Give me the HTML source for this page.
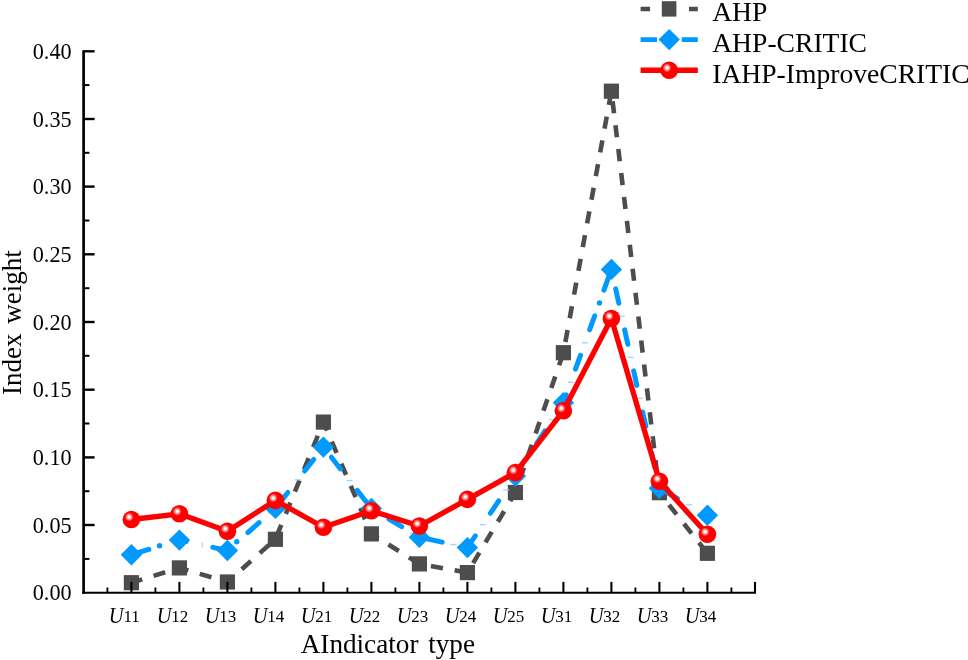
<!DOCTYPE html>
<html><head><meta charset="utf-8"><title>Index weight chart</title>
<style>
html,body{margin:0;padding:0;background:#fff;}
svg{display:block;}
text{font-family:"Liberation Serif","Times New Roman",serif;fill:#000;}
.tk{font-size:22.2px;}
.ti{font-size:27.4px;}
.lg{font-size:27.6px;}
.u{font-size:22.5px;font-style:italic;}
.d{font-size:17px;}
</style></head><body>
<svg width="968" height="660" viewBox="0 0 968 660">
<defs>
<radialGradient id="ball" cx="0.375" cy="0.36" r="0.25" fx="0.375" fy="0.36">
<stop offset="0" stop-color="#ffffff"/>
<stop offset="0.3" stop-color="#ffe4e4"/>
<stop offset="0.7" stop-color="#ff6060"/>
<stop offset="1" stop-color="#ff0000"/>
</radialGradient>
</defs>
<rect width="968" height="660" fill="#ffffff"/>

<line x1="131.4" y1="582.7" x2="179.4" y2="567.9" stroke="#4d4d4d" stroke-width="4.6" stroke-dasharray="12.2 11.9" stroke-dashoffset="0.9" stroke-linecap="butt"/>
<line x1="179.4" y1="567.9" x2="227.4" y2="582.0" stroke="#4d4d4d" stroke-width="4.6" stroke-dasharray="12.2 11.9" stroke-dashoffset="2.9" stroke-linecap="butt"/>
<line x1="227.4" y1="582.0" x2="275.4" y2="539.3" stroke="#4d4d4d" stroke-width="4.6" stroke-dasharray="12.2 11.9" stroke-dashoffset="4.8" stroke-linecap="butt"/>
<line x1="275.4" y1="539.3" x2="323.4" y2="422.1" stroke="#4d4d4d" stroke-width="4.6" stroke-dasharray="12.2 11.9" stroke-dashoffset="20.8" stroke-linecap="butt"/>
<line x1="323.4" y1="422.1" x2="371.4" y2="533.9" stroke="#4d4d4d" stroke-width="4.6" stroke-dasharray="12.2 11.9" stroke-dashoffset="2.9" stroke-linecap="butt"/>
<line x1="371.4" y1="533.9" x2="419.4" y2="563.9" stroke="#4d4d4d" stroke-width="4.6" stroke-dasharray="12.2 11.9" stroke-dashoffset="4.0" stroke-linecap="butt"/>
<line x1="419.4" y1="563.9" x2="467.4" y2="572.6" stroke="#4d4d4d" stroke-width="4.6" stroke-dasharray="12.2 11.9" stroke-dashoffset="12.4" stroke-linecap="butt"/>
<line x1="467.4" y1="572.6" x2="515.4" y2="492.5" stroke="#4d4d4d" stroke-width="4.6" stroke-dasharray="12.2 11.9" stroke-dashoffset="13.0" stroke-linecap="butt"/>
<line x1="515.4" y1="492.5" x2="563.4" y2="352.7" stroke="#4d4d4d" stroke-width="4.6" stroke-dasharray="12.2 11.9" stroke-dashoffset="10.0" stroke-linecap="butt"/>
<line x1="563.4" y1="352.7" x2="611.4" y2="91.2" stroke="#4d4d4d" stroke-width="4.6" stroke-dasharray="12.2 11.9" stroke-dashoffset="13.2" stroke-linecap="butt"/>
<line x1="611.4" y1="91.2" x2="659.4" y2="492.7" stroke="#4d4d4d" stroke-width="4.6" stroke-dasharray="12.2 11.9" stroke-dashoffset="14.0" stroke-linecap="butt"/>
<line x1="659.4" y1="492.7" x2="707.4" y2="553.3" stroke="#4d4d4d" stroke-width="4.6" stroke-dasharray="12.2 11.9" stroke-dashoffset="8.6" stroke-linecap="butt"/>
<rect x="123.8" y="575.1" width="15.2" height="15.2" fill="#4d4d4d"/>
<rect x="171.8" y="560.3" width="15.2" height="15.2" fill="#4d4d4d"/>
<rect x="219.8" y="574.4" width="15.2" height="15.2" fill="#4d4d4d"/>
<rect x="267.8" y="531.7" width="15.2" height="15.2" fill="#4d4d4d"/>
<rect x="315.8" y="414.5" width="15.2" height="15.2" fill="#4d4d4d"/>
<rect x="363.8" y="526.3" width="15.2" height="15.2" fill="#4d4d4d"/>
<rect x="411.8" y="556.3" width="15.2" height="15.2" fill="#4d4d4d"/>
<rect x="459.8" y="565.0" width="15.2" height="15.2" fill="#4d4d4d"/>
<rect x="507.8" y="484.9" width="15.2" height="15.2" fill="#4d4d4d"/>
<rect x="555.8" y="345.1" width="15.2" height="15.2" fill="#4d4d4d"/>
<rect x="603.8" y="83.6" width="15.2" height="15.2" fill="#4d4d4d"/>
<rect x="651.8" y="485.1" width="15.2" height="15.2" fill="#4d4d4d"/>
<rect x="699.8" y="545.7" width="15.2" height="15.2" fill="#4d4d4d"/>
<line x1="131.4" y1="554.7" x2="179.4" y2="540.1" stroke="#0099ff" stroke-width="5.0" stroke-dasharray="14.8 27.2" stroke-dashoffset="38.6" stroke-linecap="round"/>
<line x1="179.4" y1="540.1" x2="227.4" y2="550.5" stroke="#0099ff" stroke-width="5.0" stroke-dasharray="14.8 27.2" stroke-dashoffset="7.8" stroke-linecap="round"/>
<line x1="227.4" y1="550.5" x2="275.4" y2="508.4" stroke="#0099ff" stroke-width="5.0" stroke-dasharray="14.8 27.2" stroke-dashoffset="14.7" stroke-linecap="round"/>
<line x1="275.4" y1="508.4" x2="323.4" y2="447.1" stroke="#0099ff" stroke-width="5.0" stroke-dasharray="14.8 27.2" stroke-dashoffset="36.6" stroke-linecap="round"/>
<line x1="323.4" y1="447.1" x2="371.4" y2="508.5" stroke="#0099ff" stroke-width="5.0" stroke-dasharray="14.8 27.2" stroke-dashoffset="29.1" stroke-linecap="round"/>
<line x1="371.4" y1="508.5" x2="419.4" y2="537.2" stroke="#0099ff" stroke-width="5.0" stroke-dasharray="14.8 27.2" stroke-dashoffset="21.5" stroke-linecap="round"/>
<line x1="419.4" y1="537.2" x2="467.4" y2="547.6" stroke="#0099ff" stroke-width="5.0" stroke-dasharray="14.8 27.2" stroke-dashoffset="33.5" stroke-linecap="round"/>
<line x1="467.4" y1="547.6" x2="515.4" y2="476.0" stroke="#0099ff" stroke-width="5.0" stroke-dasharray="14.8 27.2" stroke-dashoffset="0.6" stroke-linecap="round"/>
<line x1="515.4" y1="476.0" x2="563.4" y2="402.7" stroke="#0099ff" stroke-width="5.0" stroke-dasharray="14.8 27.2" stroke-dashoffset="2.8" stroke-linecap="round"/>
<line x1="563.4" y1="402.7" x2="611.4" y2="269.4" stroke="#0099ff" stroke-width="5.0" stroke-dasharray="14.8 27.2" stroke-dashoffset="6.4" stroke-linecap="round"/>
<line x1="611.4" y1="269.4" x2="659.4" y2="488.3" stroke="#0099ff" stroke-width="5.0" stroke-dasharray="14.8 27.2" stroke-dashoffset="22.1" stroke-linecap="round"/>
<line x1="659.4" y1="488.3" x2="707.4" y2="515.3" stroke="#0099ff" stroke-width="5.0" stroke-dasharray="14.8 500" stroke-dashoffset="509.0" stroke-linecap="round"/>
<line x1="202.2" y1="542.5" x2="202.2" y2="547.5" stroke="#9ad4ff" stroke-width="1.2"/>
<line x1="268.2" y1="512.1" x2="274.2" y2="512.1" stroke="#9ad4ff" stroke-width="1.3"/>
<line x1="294.8" y1="479.8" x2="300.8" y2="479.8" stroke="#9ad4ff" stroke-width="1.3"/>
<line x1="320.7" y1="447.5" x2="326.7" y2="447.5" stroke="#9ad4ff" stroke-width="1.3"/>
<line x1="346.6" y1="480.6" x2="352.6" y2="480.6" stroke="#9ad4ff" stroke-width="1.3"/>
<line x1="374.0" y1="511.9" x2="380.0" y2="511.9" stroke="#9ad4ff" stroke-width="1.3"/>
<line x1="410.1" y1="533.4" x2="416.1" y2="533.4" stroke="#9ad4ff" stroke-width="1.3"/>
<line x1="450.3" y1="544.5" x2="456.3" y2="544.5" stroke="#9ad4ff" stroke-width="1.3"/>
<line x1="479.7" y1="524.7" x2="485.7" y2="524.7" stroke="#9ad4ff" stroke-width="1.3"/>
<line x1="503.1" y1="489.8" x2="509.1" y2="489.8" stroke="#9ad4ff" stroke-width="1.3"/>
<line x1="526.3" y1="454.8" x2="532.3" y2="454.8" stroke="#9ad4ff" stroke-width="1.3"/>
<line x1="549.3" y1="419.7" x2="555.3" y2="419.7" stroke="#9ad4ff" stroke-width="1.3"/>
<line x1="567.8" y1="382.3" x2="573.8" y2="382.3" stroke="#9ad4ff" stroke-width="1.3"/>
<line x1="582.0" y1="342.8" x2="588.0" y2="342.8" stroke="#9ad4ff" stroke-width="1.3"/>
<line x1="609.7" y1="275.3" x2="615.7" y2="275.3" stroke="#9ad4ff" stroke-width="1.3"/>
<line x1="618.7" y1="316.3" x2="624.7" y2="316.3" stroke="#9ad4ff" stroke-width="1.3"/>
<line x1="627.7" y1="357.3" x2="633.7" y2="357.3" stroke="#9ad4ff" stroke-width="1.3"/>
<line x1="636.7" y1="398.4" x2="642.7" y2="398.4" stroke="#9ad4ff" stroke-width="1.3"/>
<line x1="645.7" y1="439.4" x2="651.7" y2="439.4" stroke="#9ad4ff" stroke-width="1.3"/>
<line x1="654.7" y1="480.4" x2="660.7" y2="480.4" stroke="#9ad4ff" stroke-width="1.3"/>
<line x1="686.0" y1="504.9" x2="692.0" y2="504.9" stroke="#9ad4ff" stroke-width="1.3"/>
<circle cx="159.6" cy="545.8" r="2.7" fill="#0099ff"/>
<circle cx="236.8" cy="541.7" r="2.7" fill="#0099ff"/>
<circle cx="599.5" cy="302.9" r="2.7" fill="#0099ff"/>
<polygon points="120.7,554.7 131.4,544.0 142.1,554.7 131.4,565.4" fill="#0099ff"/>
<polygon points="168.7,540.1 179.4,529.4 190.1,540.1 179.4,550.8" fill="#0099ff"/>
<polygon points="216.7,550.5 227.4,539.8 238.1,550.5 227.4,561.2" fill="#0099ff"/>
<polygon points="264.7,508.4 275.4,497.7 286.1,508.4 275.4,519.1" fill="#0099ff"/>
<polygon points="312.7,447.1 323.4,436.4 334.1,447.1 323.4,457.8" fill="#0099ff"/>
<polygon points="360.7,508.5 371.4,497.8 382.1,508.5 371.4,519.2" fill="#0099ff"/>
<polygon points="408.7,537.2 419.4,526.5 430.1,537.2 419.4,547.9" fill="#0099ff"/>
<polygon points="456.7,547.6 467.4,536.9 478.1,547.6 467.4,558.3" fill="#0099ff"/>
<polygon points="504.7,476.0 515.4,465.3 526.1,476.0 515.4,486.7" fill="#0099ff"/>
<polygon points="552.7,402.7 563.4,392.0 574.1,402.7 563.4,413.4" fill="#0099ff"/>
<polygon points="600.7,269.4 611.4,258.7 622.1,269.4 611.4,280.1" fill="#0099ff"/>
<polygon points="648.7,488.3 659.4,477.6 670.1,488.3 659.4,499.0" fill="#0099ff"/>
<polygon points="696.7,515.3 707.4,504.6 718.1,515.3 707.4,526.0" fill="#0099ff"/>
<polyline points="131.4,519.5 179.4,513.8 227.4,531.2 275.4,500.4 323.4,527.3 371.4,510.8 419.4,526.0 467.4,499.4 515.4,472.6 563.4,410.8 611.4,318.5 659.4,481.2 707.4,534.3" fill="none" stroke="#ff0000" stroke-width="5.3" stroke-linejoin="round"/>
<circle cx="131.4" cy="519.5" r="8.8" fill="url(#ball)"/>
<circle cx="179.4" cy="513.8" r="8.8" fill="url(#ball)"/>
<circle cx="227.4" cy="531.2" r="8.8" fill="url(#ball)"/>
<circle cx="275.4" cy="500.4" r="8.8" fill="url(#ball)"/>
<circle cx="323.4" cy="527.3" r="8.8" fill="url(#ball)"/>
<circle cx="371.4" cy="510.8" r="8.8" fill="url(#ball)"/>
<circle cx="419.4" cy="526.0" r="8.8" fill="url(#ball)"/>
<circle cx="467.4" cy="499.4" r="8.8" fill="url(#ball)"/>
<circle cx="515.4" cy="472.6" r="8.8" fill="url(#ball)"/>
<circle cx="563.4" cy="410.8" r="8.8" fill="url(#ball)"/>
<circle cx="611.4" cy="318.5" r="8.8" fill="url(#ball)"/>
<circle cx="659.4" cy="481.2" r="8.8" fill="url(#ball)"/>
<circle cx="707.4" cy="534.3" r="8.8" fill="url(#ball)"/>
<g stroke="#000" fill="none">
<line x1="83.6" y1="50.199999999999996" x2="83.6" y2="593.7" stroke-width="2.7"/>
<line x1="82.3" y1="592.7" x2="755.9" y2="592.7" stroke-width="2.0"/>
<line x1="83.6" y1="558.9" x2="89.39999999999999" y2="558.9" stroke-width="2.0"/>
<line x1="83.6" y1="525.0" x2="94.6" y2="525.0" stroke-width="2.4"/>
<line x1="83.6" y1="491.2" x2="89.39999999999999" y2="491.2" stroke-width="2.0"/>
<line x1="83.6" y1="457.4" x2="94.6" y2="457.4" stroke-width="2.4"/>
<line x1="83.6" y1="423.5" x2="89.39999999999999" y2="423.5" stroke-width="2.0"/>
<line x1="83.6" y1="389.7" x2="94.6" y2="389.7" stroke-width="2.4"/>
<line x1="83.6" y1="355.8" x2="89.39999999999999" y2="355.8" stroke-width="2.0"/>
<line x1="83.6" y1="322.0" x2="94.6" y2="322.0" stroke-width="2.4"/>
<line x1="83.6" y1="288.2" x2="89.39999999999999" y2="288.2" stroke-width="2.0"/>
<line x1="83.6" y1="254.3" x2="94.6" y2="254.3" stroke-width="2.4"/>
<line x1="83.6" y1="220.5" x2="89.39999999999999" y2="220.5" stroke-width="2.0"/>
<line x1="83.6" y1="186.6" x2="94.6" y2="186.6" stroke-width="2.4"/>
<line x1="83.6" y1="152.8" x2="89.39999999999999" y2="152.8" stroke-width="2.0"/>
<line x1="83.6" y1="119.0" x2="94.6" y2="119.0" stroke-width="2.4"/>
<line x1="83.6" y1="85.1" x2="89.39999999999999" y2="85.1" stroke-width="2.0"/>
<line x1="83.6" y1="51.3" x2="94.6" y2="51.3" stroke-width="2.4"/>
<line x1="131.4" y1="592.7" x2="131.4" y2="581.9000000000001" stroke-width="2.1"/>
<line x1="107.4" y1="592.7" x2="107.4" y2="587.5" stroke-width="1.9"/>
<line x1="179.4" y1="592.7" x2="179.4" y2="581.9000000000001" stroke-width="2.1"/>
<line x1="155.4" y1="592.7" x2="155.4" y2="587.5" stroke-width="1.9"/>
<line x1="227.4" y1="592.7" x2="227.4" y2="581.9000000000001" stroke-width="2.1"/>
<line x1="203.4" y1="592.7" x2="203.4" y2="587.5" stroke-width="1.9"/>
<line x1="275.4" y1="592.7" x2="275.4" y2="581.9000000000001" stroke-width="2.1"/>
<line x1="251.4" y1="592.7" x2="251.4" y2="587.5" stroke-width="1.9"/>
<line x1="323.4" y1="592.7" x2="323.4" y2="581.9000000000001" stroke-width="2.1"/>
<line x1="299.4" y1="592.7" x2="299.4" y2="587.5" stroke-width="1.9"/>
<line x1="371.4" y1="592.7" x2="371.4" y2="581.9000000000001" stroke-width="2.1"/>
<line x1="347.4" y1="592.7" x2="347.4" y2="587.5" stroke-width="1.9"/>
<line x1="419.4" y1="592.7" x2="419.4" y2="581.9000000000001" stroke-width="2.1"/>
<line x1="395.4" y1="592.7" x2="395.4" y2="587.5" stroke-width="1.9"/>
<line x1="467.4" y1="592.7" x2="467.4" y2="581.9000000000001" stroke-width="2.1"/>
<line x1="443.4" y1="592.7" x2="443.4" y2="587.5" stroke-width="1.9"/>
<line x1="515.4" y1="592.7" x2="515.4" y2="581.9000000000001" stroke-width="2.1"/>
<line x1="491.4" y1="592.7" x2="491.4" y2="587.5" stroke-width="1.9"/>
<line x1="563.4" y1="592.7" x2="563.4" y2="581.9000000000001" stroke-width="2.1"/>
<line x1="539.4" y1="592.7" x2="539.4" y2="587.5" stroke-width="1.9"/>
<line x1="611.4" y1="592.7" x2="611.4" y2="581.9000000000001" stroke-width="2.1"/>
<line x1="587.4" y1="592.7" x2="587.4" y2="587.5" stroke-width="1.9"/>
<line x1="659.4" y1="592.7" x2="659.4" y2="581.9000000000001" stroke-width="2.1"/>
<line x1="635.4" y1="592.7" x2="635.4" y2="587.5" stroke-width="1.9"/>
<line x1="707.4" y1="592.7" x2="707.4" y2="581.9000000000001" stroke-width="2.1"/>
<line x1="683.4" y1="592.7" x2="683.4" y2="587.5" stroke-width="1.9"/>
<line x1="755.0" y1="592.7" x2="755.0" y2="581.9000000000001" stroke-width="2.1"/>
<line x1="731.4" y1="592.7" x2="731.4" y2="587.5" stroke-width="1.9"/>
</g>
<text class="tk" x="71.6" y="600.2" text-anchor="end">0.00</text>
<text class="tk" x="71.6" y="532.5" text-anchor="end">0.05</text>
<text class="tk" x="71.6" y="464.9" text-anchor="end">0.10</text>
<text class="tk" x="71.6" y="397.2" text-anchor="end">0.15</text>
<text class="tk" x="71.6" y="329.5" text-anchor="end">0.20</text>
<text class="tk" x="71.6" y="261.8" text-anchor="end">0.25</text>
<text class="tk" x="71.6" y="194.1" text-anchor="end">0.30</text>
<text class="tk" x="71.6" y="126.5" text-anchor="end">0.35</text>
<text class="tk" x="71.6" y="58.8" text-anchor="end">0.40</text>
<text class="u" transform="translate(108.65,622.7) scale(0.91,1)">U</text><text class="d" x="131.7" y="622.4" text-anchor="middle">11</text>
<text class="u" transform="translate(156.65,622.7) scale(0.91,1)">U</text><text class="d" x="179.7" y="622.4" text-anchor="middle">12</text>
<text class="u" transform="translate(204.65,622.7) scale(0.91,1)">U</text><text class="d" x="227.7" y="622.4" text-anchor="middle">13</text>
<text class="u" transform="translate(252.65,622.7) scale(0.91,1)">U</text><text class="d" x="275.7" y="622.4" text-anchor="middle">14</text>
<text class="u" transform="translate(300.65,622.7) scale(0.91,1)">U</text><text class="d" x="323.7" y="622.4" text-anchor="middle">21</text>
<text class="u" transform="translate(348.65,622.7) scale(0.91,1)">U</text><text class="d" x="371.7" y="622.4" text-anchor="middle">22</text>
<text class="u" transform="translate(396.65,622.7) scale(0.91,1)">U</text><text class="d" x="419.7" y="622.4" text-anchor="middle">23</text>
<text class="u" transform="translate(444.65,622.7) scale(0.91,1)">U</text><text class="d" x="467.7" y="622.4" text-anchor="middle">24</text>
<text class="u" transform="translate(492.65,622.7) scale(0.91,1)">U</text><text class="d" x="515.7" y="622.4" text-anchor="middle">25</text>
<text class="u" transform="translate(540.65,622.7) scale(0.91,1)">U</text><text class="d" x="563.7" y="622.4" text-anchor="middle">31</text>
<text class="u" transform="translate(588.65,622.7) scale(0.91,1)">U</text><text class="d" x="611.7" y="622.4" text-anchor="middle">32</text>
<text class="u" transform="translate(636.65,622.7) scale(0.91,1)">U</text><text class="d" x="659.7" y="622.4" text-anchor="middle">33</text>
<text class="u" transform="translate(684.65,622.7) scale(0.91,1)">U</text><text class="d" x="707.7" y="622.4" text-anchor="middle">34</text>
<text class="ti" x="300.7" y="652.6" style="font-size:27.2px;word-spacing:2.9px">AIndicator type</text>
<text class="ti" transform="translate(20.5,395.1) rotate(-90)" style="font-size:27px;word-spacing:3.2px">Index weight</text>
<line x1="640.6" y1="8.9" x2="697.8" y2="8.9" stroke="#4d4d4d" stroke-width="4.5" stroke-dasharray="9.5 14.7"/>
<rect x="661.8" y="1.2" width="14.6" height="15.4" fill="#4d4d4d"/>
<line x1="640.6" y1="39.6" x2="697.8" y2="39.6" stroke="#0099ff" stroke-width="4.8" stroke-dasharray="16.4 24.8"/>
<polygon points="658.5,39.6 669.2,28.9 679.9,39.6 669.2,50.3" fill="#0099ff"/>
<line x1="640.6" y1="70.3" x2="697.8" y2="70.3" stroke="#ff0000" stroke-width="5.4"/>
<circle cx="669.2" cy="70.3" r="8.8" fill="url(#ball)"/>
<text class="lg" x="712.2" y="21.4">AHP</text>
<text class="lg" x="712.2" y="52.4">AHP-CRITIC</text>
<text class="lg" x="712.2" y="82.6">IAHP-ImproveCRITIC</text>
</svg></body></html>
